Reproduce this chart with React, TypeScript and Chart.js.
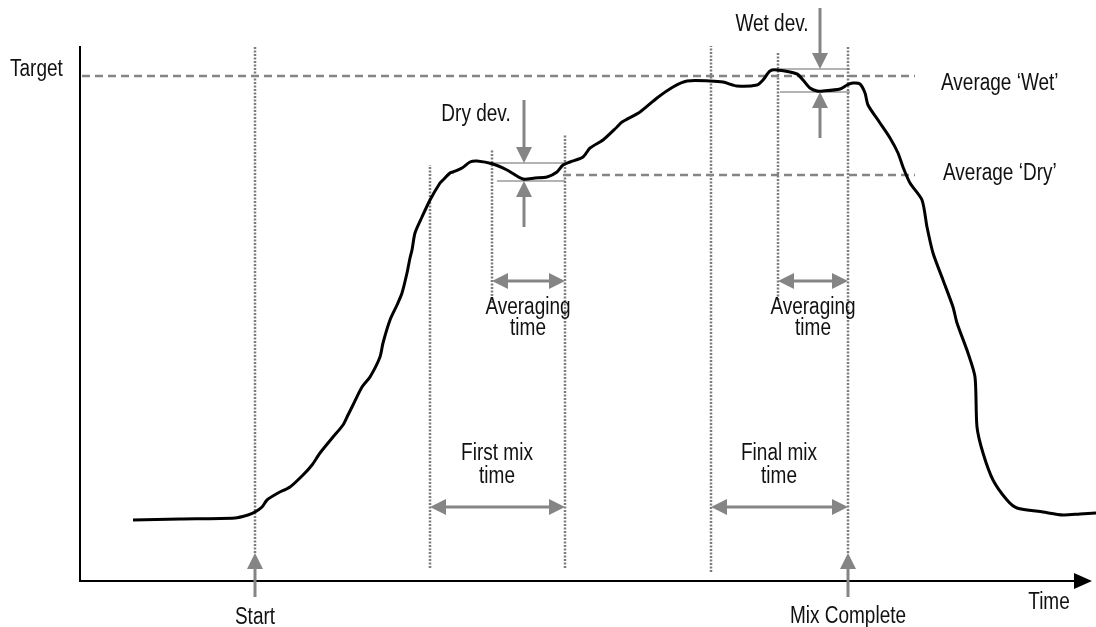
import React, { useEffect, useRef } from "react";
import { Chart, registerables } from "chart.js";

Chart.register(...registerables);

// ---- data (time units along x, signal units along y) ----
const curveTime = [53,100,155,168,175,182,187,198,210,223,232,240,253,263,268,273,282,290,300,303,310,317,322,327,330,332,335,342,350,360,363,370,373,382,390,397,413,427,443,455,467,477,483,490,503,510,523,537,542,560,577,593,607,630,643,657,677,683,690,697,717,723,730,737,743,760,767,773,780,785,788,800,810,818,823,830,842,847,853,863,873,877,888,895,897,903,913,927,937,963,983,1000,1016];
const curveSignal = [61,62,63,66,69,74,81,88,94,106,116,128,144,156,166,176,194,204,224,238,261,276,288,308,323,331,348,364,381,398,401,408,409,413,419,420,417,411,402,403,404,409,416,419,424,433,441,454,459,469,483,494,500,500,499,495,496,501,510,511,507,501,493,490,490,492,496,498,497,488,476,458,443,428,414,398,381,354,328,301,274,258,228,204,154,128,101,81,73,69,66,67,68];

const targetLevel = 505; // also Average 'Wet'
const dryAverageLevel = 406;
const targetSpan = [2, 835];
const drySpan = [483, 835];

// vertical marker lines: start, first mix start, dry avg start, first mix end, final mix start, wet avg start, mix complete
const markerTimes = [175, 350, 412, 485, 631, 698, 768];
const markerTops = [535, 416, 431, 446, 535, 529, 534];
const markerBottoms = [28, 13, 278, 13, 9, 281, 28];

// deviation bands
const dryDevLevels = [418, 400];
const dryDevSpans = [[412, 485], [417, 485]];
const wetDevLevels = [512, 489];
const wetDevSpans = [[700, 770], [700, 770]];

// time windows
const averagingLevel = 300;
const mixLevel = 74;
const dryAveragingWindow = [412, 485];
const wetAveragingWindow = [698, 768];
const firstMixWindow = [350, 485];
const finalMixWindow = [631, 768];

const GREY = "#858585";
const DOT = "#7d7d7d";
const FONT = '19px "Liberation Sans", Arial, sans-serif';

function arrow(ctx, x1, y1, x2, y2, both = false) {
  const headLen = 16;
  const headHalf = 8;
  const ang = Math.atan2(y2 - y1, x2 - x1);
  const cos = Math.cos(ang), sin = Math.sin(ang);
  const sx = both ? x1 + cos * headLen * 0.8 : x1;
  const sy = both ? y1 + sin * headLen * 0.8 : y1;
  const ex = x2 - cos * headLen * 0.8;
  const ey = y2 - sin * headLen * 0.8;
  ctx.save();
  ctx.strokeStyle = GREY;
  ctx.fillStyle = GREY;
  ctx.lineWidth = 3;
  ctx.beginPath();
  ctx.moveTo(sx, sy);
  ctx.lineTo(ex, ey);
  ctx.stroke();
  const head = (tx, ty, c, s) => {
    ctx.beginPath();
    ctx.moveTo(tx, ty);
    ctx.lineTo(tx - c * headLen - s * headHalf, ty - s * headLen + c * headHalf);
    ctx.lineTo(tx - c * headLen + s * headHalf, ty - s * headLen - c * headHalf);
    ctx.closePath();
    ctx.fill();
  };
  head(x2, y2, cos, sin);
  if (both) head(x1, y1, -cos, -sin);
  ctx.restore();
}

function label(ctx, text, x, y) {
  ctx.save();
  ctx.translate(x, y);
  ctx.scale(1, 1.22);
  ctx.fillText(text, 0, 0);
  ctx.restore();
}

const annotationPlugin = {
  id: "mixAnnotations",
  afterDatasetsDraw(chart) {
    const ctx = chart.ctx;
    const xs = chart.scales.x;
    const ys = chart.scales.y;
    const X = (v) => xs.getPixelForValue(v);
    const Y = (v) => ys.getPixelForValue(v);
    const area = chart.chartArea;

    ctx.save();
    // axes
    ctx.strokeStyle = "#000";
    ctx.lineWidth = 2;
    ctx.beginPath();
    ctx.moveTo(area.left, area.top);
    ctx.lineTo(area.left, area.bottom);
    ctx.moveTo(area.left - 1, area.bottom);
    ctx.lineTo(area.right - 20, area.bottom);
    ctx.stroke();
    ctx.fillStyle = "#000";
    ctx.beginPath();
    ctx.moveTo(area.right - 4, area.bottom);
    ctx.lineTo(area.right - 22, area.bottom - 8);
    ctx.lineTo(area.right - 22, area.bottom + 8);
    ctx.closePath();
    ctx.fill();

    // deviation arrows
    arrow(ctx, X(444), Y(481), X(444), Y(dryDevLevels[0]));
    arrow(ctx, X(444), Y(354), X(444), Y(dryDevLevels[1]));
    arrow(ctx, X(740), Y(573), X(740), Y(wetDevLevels[0]));
    arrow(ctx, X(740), Y(443), X(740), Y(wetDevLevels[1]));

    // window arrows
    arrow(ctx, X(dryAveragingWindow[0]), Y(averagingLevel), X(dryAveragingWindow[1]), Y(averagingLevel), true);
    arrow(ctx, X(wetAveragingWindow[0]), Y(averagingLevel), X(wetAveragingWindow[1]), Y(averagingLevel), true);
    arrow(ctx, X(firstMixWindow[0]), Y(mixLevel), X(firstMixWindow[1]), Y(mixLevel), true);
    arrow(ctx, X(finalMixWindow[0]), Y(mixLevel), X(finalMixWindow[1]), Y(mixLevel), true);

    // event arrows below axis
    arrow(ctx, X(markerTimes[0]), Y(-16), X(markerTimes[0]), Y(28));
    arrow(ctx, X(markerTimes[6]), Y(-16), X(markerTimes[6]), Y(28));

    // texts
    ctx.font = FONT;
    ctx.fillStyle = "#111";
    ctx.textBaseline = "middle";
    ctx.textAlign = "left";
    label(ctx, "Target", 10, Y(511));
    label(ctx, "Average \u2018Wet\u2019", 941, Y(targetLevel) + 8);
    label(ctx, "Average \u2018Dry\u2019", 943, Y(dryAverageLevel) - 1);
    ctx.textAlign = "center";
    label(ctx, "Dry dev.", X(396), Y(466));
    label(ctx, "Wet dev.", X(692), Y(556));
    label(ctx, "Averaging", X(448), Y(273));
    label(ctx, "time", X(448), Y(252));
    label(ctx, "Averaging", X(733), Y(273));
    label(ctx, "time", X(733), Y(252));
    label(ctx, "First mix", X(417), Y(127));
    label(ctx, "time", X(417), Y(104));
    label(ctx, "Final mix", X(699), Y(127));
    label(ctx, "time", X(699), Y(104));
    label(ctx, "Start", X(markerTimes[0]), Y(-37));
    label(ctx, "Mix Complete", X(markerTimes[6]), Y(-36));
    label(ctx, "Time", 1049, Y(-22));
    ctx.restore();
  },
};

export default function App() {
  const ref = useRef(null);
  useEffect(() => {
    const prevMargin = document.body.style.margin;
    document.body.style.margin = "0";
    const seg = (pts, extra) => ({
      data: pts,
      pointRadius: 0,
      fill: false,
      tension: 0,
      ...extra,
    });
    const datasets = [
      seg(curveTime.map((t, i) => ({ x: t, y: curveSignal[i] })), {
        label: "Signal",
        borderColor: "#000",
        borderWidth: 3,
        tension: 0.25,
      }),
      seg([{ x: targetSpan[0], y: targetLevel }, { x: targetSpan[1], y: targetLevel }], {
        label: "Target / Average Wet",
        borderColor: GREY,
        borderWidth: 2.5,
        borderDash: [8, 5],
      }),
      seg([{ x: drySpan[0], y: dryAverageLevel }, { x: drySpan[1], y: dryAverageLevel }], {
        label: "Average Dry",
        borderColor: GREY,
        borderWidth: 2.5,
        borderDash: [8, 5],
      }),
      ...markerTimes.map((t, i) =>
        seg([{ x: t, y: markerBottoms[i] }, { x: t, y: markerTops[i] }], {
          label: "marker" + i,
          borderColor: DOT,
          borderWidth: 2.5,
          borderDash: [2, 1.5],
        })
      ),
      ...dryDevLevels.map((lv, i) =>
        seg([{ x: dryDevSpans[i][0], y: lv }, { x: dryDevSpans[i][1], y: lv }], {
          label: "dryDev" + i,
          borderColor: "#9a9a9a",
          borderWidth: 1.5,
        })
      ),
      ...wetDevLevels.map((lv, i) =>
        seg([{ x: wetDevSpans[i][0], y: lv }, { x: wetDevSpans[i][1], y: lv }], {
          label: "wetDev" + i,
          borderColor: "#9a9a9a",
          borderWidth: 1.5,
        })
      ),
    ];
    const chart = new Chart(ref.current, {
      type: "line",
      data: { datasets },
      options: {
        responsive: false,
        animation: false,
        devicePixelRatio: 1,
        layout: { padding: { left: 80, right: 0, top: 46, bottom: 46 } },
        plugins: { legend: { display: false }, tooltip: { enabled: false } },
        scales: {
          x: { type: "linear", min: 0, max: 1016, display: false },
          y: { type: "linear", min: 0, max: 535, display: false },
        },
      },
      plugins: [annotationPlugin],
    });
    return () => {
      chart.destroy();
      document.body.style.margin = prevMargin;
    };
  }, []);
  return (
    <div style={{ width: 1096, height: 627, background: "#fff" }}>
      <canvas ref={ref} width={1096} height={627} />
    </div>
  );
}
